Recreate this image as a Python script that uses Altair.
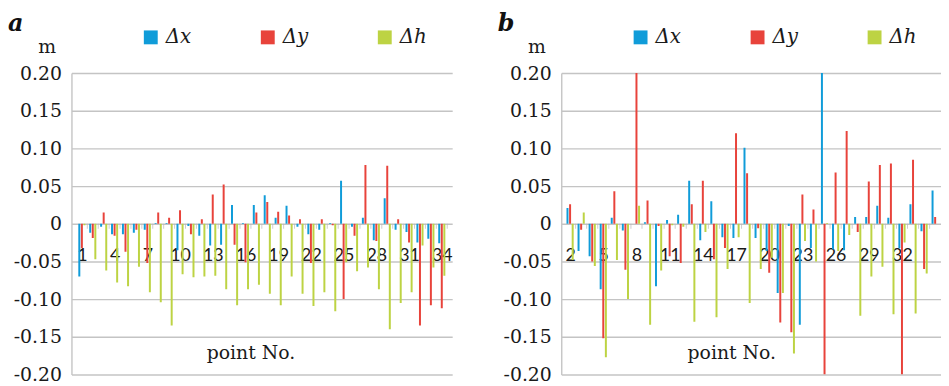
import altair as alt
import pandas as pd

components = ["Δx", "Δy", "Δh"]
palette = ["#109cd9", "#e8433b", "#bdd343"]

# ---- panel a : points 1..34 ----
points_a = list(range(1, 35))
dx_a = [-0.070, -0.012, -0.004, -0.014, -0.014, -0.012, -0.008, 0.001, 0.001, -0.035,
        -0.003, -0.016, -0.029, -0.028, 0.025, 0.001, 0.025, 0.038, 0.008, 0.024,
        -0.004, -0.014, -0.008, 0.001, 0.057, -0.004, 0.008, -0.022, 0.034, -0.008,
        -0.011, -0.025, -0.020, -0.026]
dy_a = [-0.032, -0.019, 0.015, -0.016, -0.037, -0.008, -0.052, 0.015, 0.008, 0.018,
        -0.014, 0.006, 0.039, 0.052, -0.028, -0.051, 0.015, 0.029, 0.016, 0.011,
        0.006, -0.052, 0.006, -0.002, -0.100, -0.016, 0.078, -0.023, 0.077, 0.006,
        -0.025, -0.135, -0.108, -0.112]
dh_a = [-0.002, -0.047, -0.062, -0.078, -0.083, -0.057, -0.091, -0.104, -0.135, -0.067,
        -0.071, -0.070, -0.069, -0.087, -0.108, -0.087, -0.081, -0.093, -0.108, -0.070,
        -0.093, -0.109, -0.091, -0.116, -0.051, -0.063, -0.058, -0.087, -0.140, -0.105,
        -0.091, -0.029, -0.058, -0.069]
labels_a = [1, 4, 7, 10, 13, 16, 19, 22, 25, 28, 31, 34]
domain_a = [0.5, 34.5]

# ---- panel b : points 2..35 (the last one is cut by the picture edge) ----
points_b = list(range(2, 36))
dx_b = [0.021, -0.036, -0.043, -0.087, 0.008, -0.009, 0.0, 0.002, -0.083, 0.005,
        0.012, 0.057, -0.022, 0.030, -0.018, -0.019, 0.101, -0.019, -0.036, -0.092,
        -0.003, -0.134, -0.032, 0.200, -0.034, -0.035, 0.009, 0.009, 0.024, 0.008,
        -0.032, 0.026, -0.010, 0.044]
dy_b = [0.026, -0.008, -0.050, -0.152, 0.043, -0.061, 0.200, 0.031, -0.003, -0.043,
        -0.052, 0.026, 0.057, -0.047, -0.032, 0.120, 0.067, -0.006, -0.065, -0.131,
        -0.144, 0.039, 0.019, -0.200, 0.068, 0.123, -0.011, 0.056, 0.078, 0.080,
        -0.200, 0.085, -0.060, 0.009]
dh_b = [-0.048, 0.015, -0.056, -0.177, -0.048, -0.100, 0.024, -0.134, -0.062, -0.002,
        -0.004, -0.130, -0.011, -0.124, -0.060, -0.018, -0.105, -0.060, -0.045, -0.092,
        -0.172, -0.023, -0.050, 0.001, -0.036, -0.015, -0.122, -0.070, -0.057, -0.120,
        -0.025, -0.119, -0.066, None]
labels_b = [2, 5, 8, 11, 14, 17, 20, 23, 26, 29, 32]
domain_b = [1.65, 35.08]

y_ticks = [-0.2, -0.15, -0.1, -0.05, 0, 0.05, 0.1, 0.15, 0.2]

H = 304
SERIF = "DejaVu Serif"
GRID = "#c4c4c4"
INK = "#1a1a1a"


def long_table(points, dx, dy, dh):
    rows = []
    for p, vx, vy, vh in zip(points, dx, dy, dh):
        for ci, (comp, v) in enumerate(zip(components, (vx, vy, vh))):
            if v is not None:
                rows.append({"point": p, "comp": comp, "ci": ci, "value": v})
    return pd.DataFrame(rows)


def panel(letter, points, dx, dy, dh, labelled, boundaries, domain, width, text_x):
    df = long_table(points, dx, dy, dh)
    x_axis = alt.Axis(values=labelled, format="d", offset=-H / 2, domain=False,
                      ticks=False, grid=False, labelAngle=0, labelFont="Lato",
                      labelFontSize=18, labelColor=INK, labelPadding=23,
                      labelOverlap=False, labelFlush=False, title=None)
    y_axis = alt.Axis(values=y_ticks, grid=True, gridColor=GRID, gridWidth=1.4,
                      domain=True, domainColor=GRID, domainWidth=1.4, ticks=False,
                      labelExpr="datum.value == 0 ? '0' : (datum.value < 0 ? '-' : '') + format(abs(datum.value), '.2f')",
                      labelFont=SERIF, labelFontSize=19, labelColor=INK,
                      labelPadding=10, title="m", titleAngle=0, titleX=-25,
                      titleY=-21, titleAlign="center", titleBaseline="alphabetic",
                      titleFont=SERIF, titleFontSize=19, titleFontWeight="normal",
                      titleColor=INK)
    xscale = alt.Scale(domain=domain, nice=False, zero=False)
    yscale = alt.Scale(domain=[-0.2, 0.2], nice=False)
    bars = alt.Chart(df).transform_calculate(
        xpos="datum.point + (datum.ci - 1) * 0.235"
    ).mark_bar(clip=True, width=2, orient="vertical").encode(
        x=alt.X("xpos:Q", scale=xscale, axis=x_axis),
        y=alt.Y("value:Q", scale=yscale, axis=y_axis),
        color=alt.Color(
            "comp:N", sort=components,
            scale=alt.Scale(domain=components, range=palette),
            legend=alt.Legend(title=None, orient="none", legendX=70, legendY=-46,
                              direction="horizontal", columns=3, symbolType="square",
                              symbolSize=196, symbolStrokeWidth=0, symbolOpacity=1,
                              labelFont=SERIF, labelFontStyle="italic", labelFontSize=20,
                              labelColor=INK, labelOffset=5, columnPadding=67, padding=0),
        ),
    )
    edge_ticks = alt.Chart(pd.DataFrame({"xpos": boundaries, "value": [0.0] * len(boundaries)})).mark_tick(
        orient="vertical", size=5, thickness=1, color="#b8b8b8", yOffset=2.5
    ).encode(x=alt.X("xpos:Q", scale=xscale, axis=x_axis),
             y=alt.Y("value:Q", scale=yscale, axis=y_axis))
    tag = alt.Chart(pd.DataFrame({"t": [letter]})).mark_text(
        font=SERIF, fontSize=24, fontStyle="italic", fontWeight="bold",
        align="left", baseline="alphabetic", color="#111111",
    ).encode(x=alt.value(-64), y=alt.value(-42), text="t:N")
    xt = alt.Chart(pd.DataFrame({"t": ["point No."]})).mark_text(
        font=SERIF, fontSize=19, align="center", baseline="alphabetic", color=INK,
    ).encode(x=alt.value(text_x), y=alt.value(288), text="t:N")
    return alt.layer(bars, edge_ticks, tag, xt).properties(width=width, height=H)


edges_a = [p + 0.5 for p in points_a]
edges_b = [p + 0.5 for p in points_b[:-1]]

panel_a = panel("a", points_a, dx_a, dy_a, dh_a, labels_a, edges_a, domain_a, 384, 181)
panel_b = panel("b", points_b, dx_b, dy_b, dh_b, labels_b, edges_b, domain_b, 383, 172)

chart = (
    alt.hconcat(panel_a, panel_b, spacing=110, bounds="flush")
    .resolve_scale(color="independent")
    .properties(padding={"top": 3, "left": 0, "right": 0, "bottom": 0},
                background="white")
    .configure_view(stroke=None)
)

chart.save("out.html", embed_options={"renderer": "svg", "actions": False})
